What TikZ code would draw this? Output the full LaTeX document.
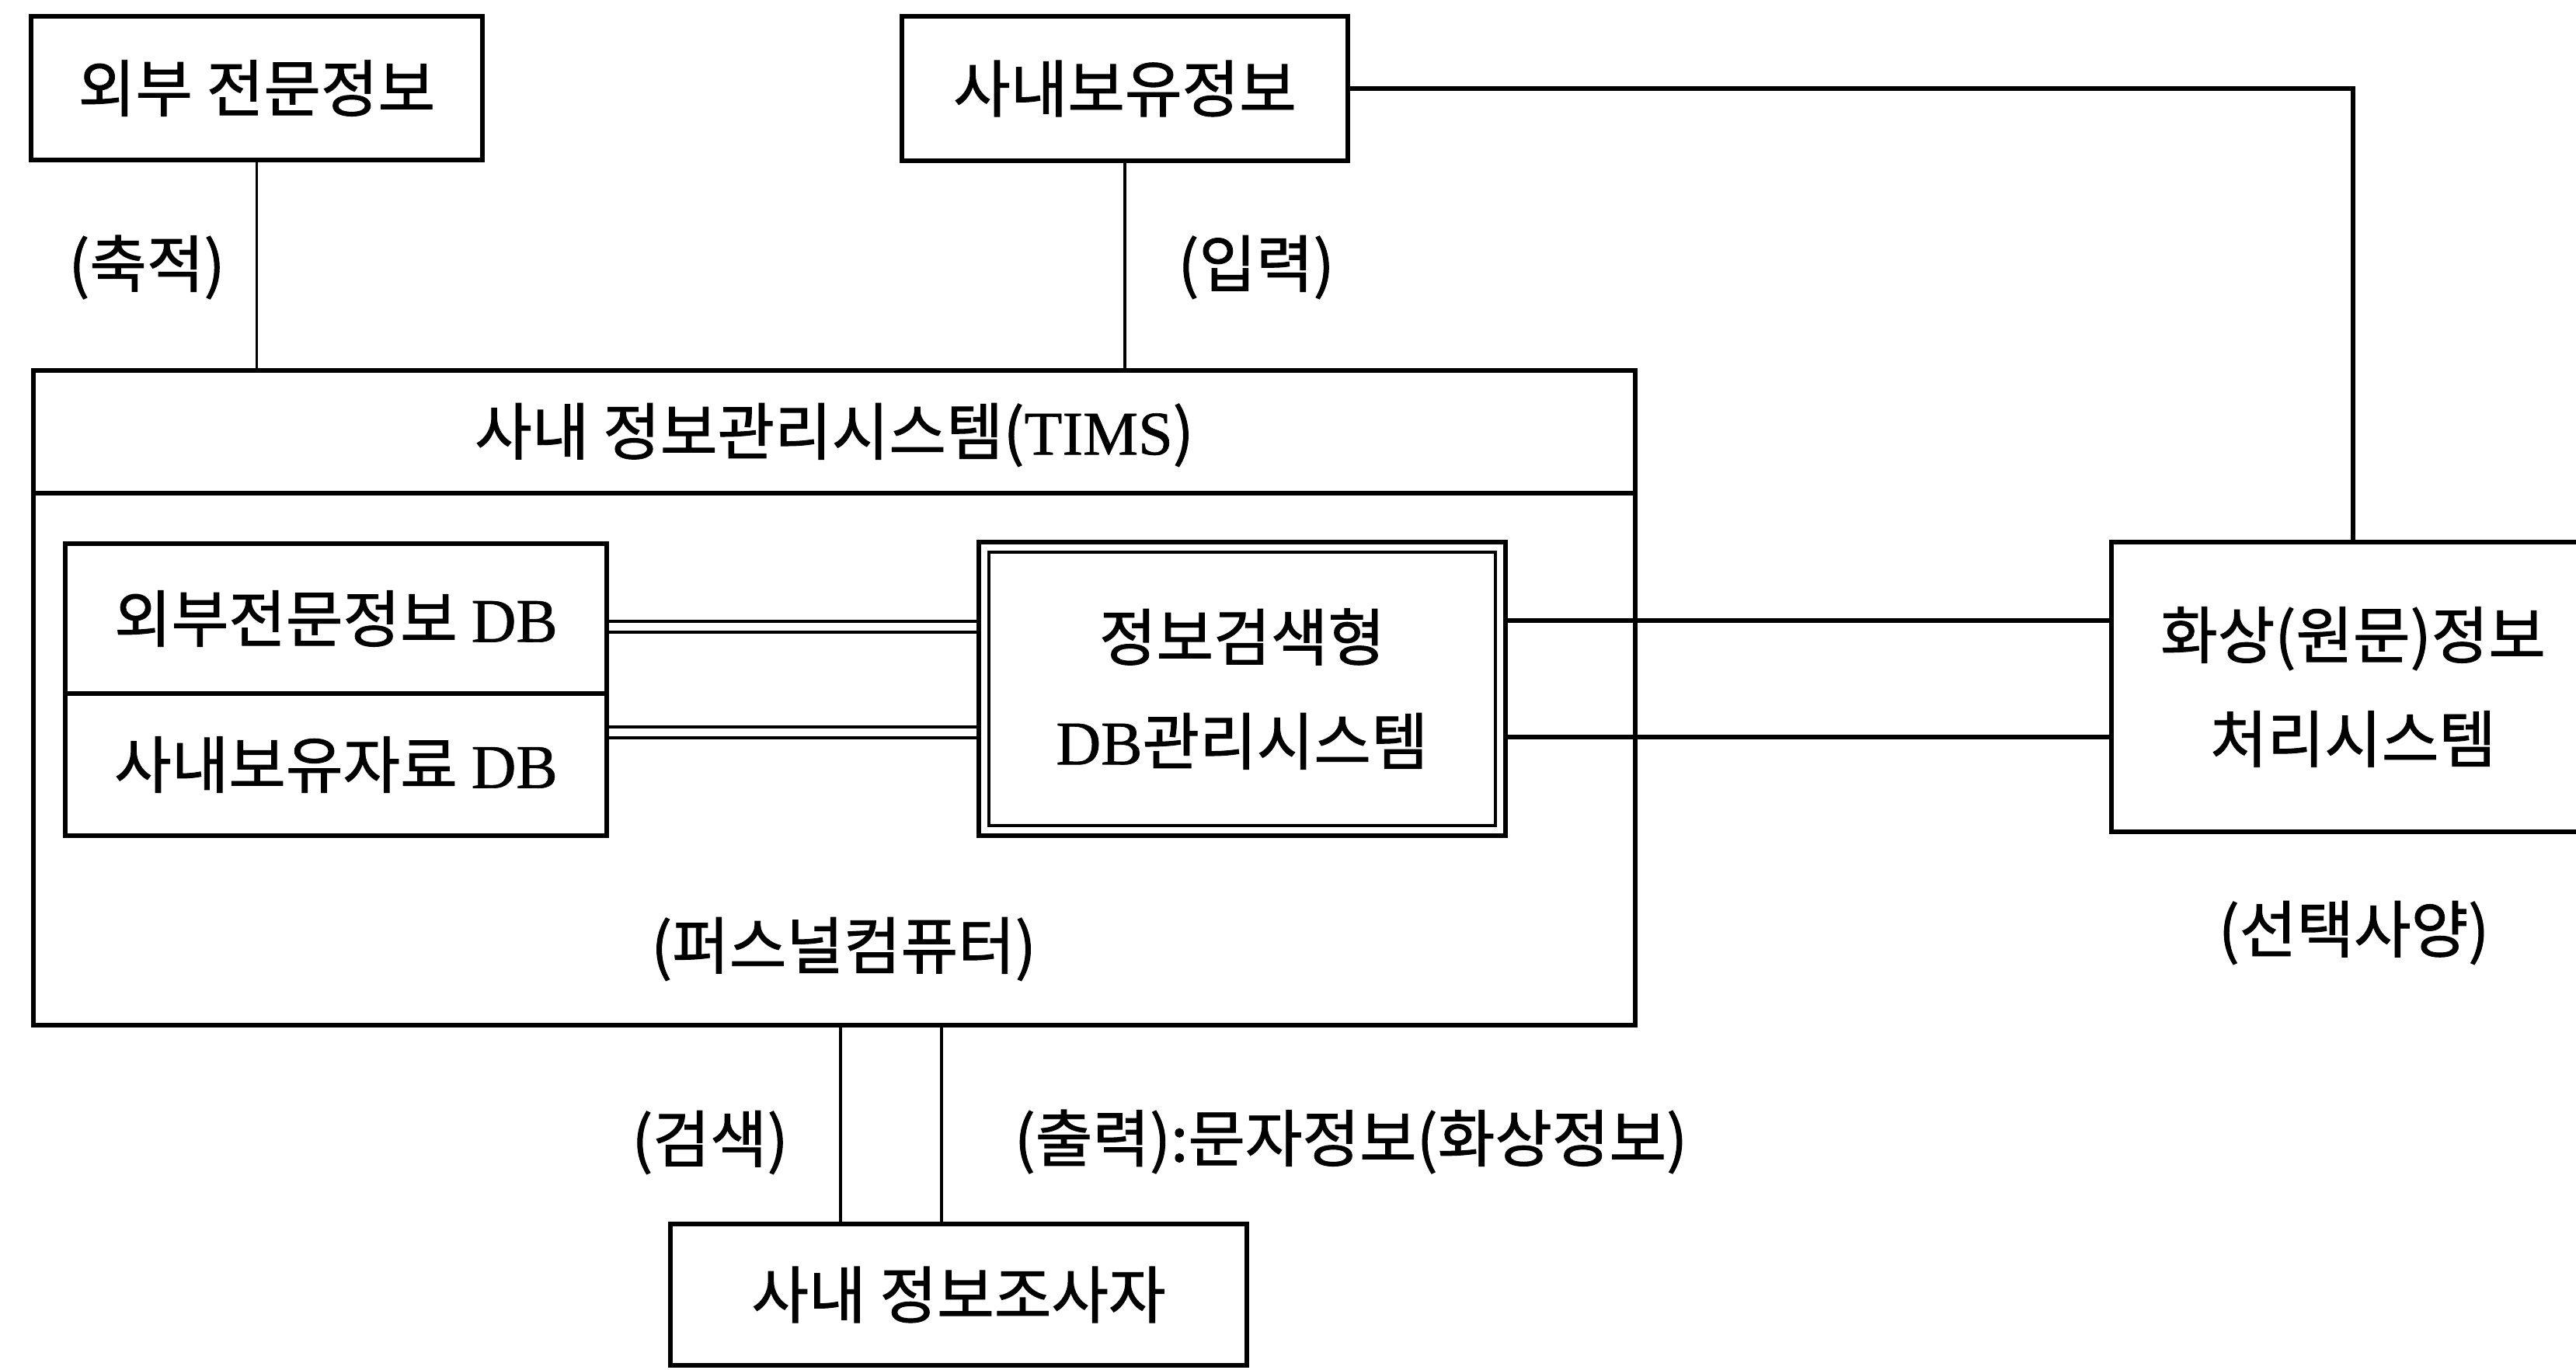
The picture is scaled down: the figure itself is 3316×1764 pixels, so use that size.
\documentclass[tikz,border=0pt]{standalone}
\usepackage{fontspec}
\setmainfont{Noto Sans CJK KR}[FakeBold=1.2]
\newfontfamily\lat{Liberation Serif}[FakeBold=0.8]
\begin{document}
\begin{tikzpicture}[x=0.25pt,y=-0.25pt,
  bx/.style={draw, line width=1.5pt, inner sep=0pt, align=center,
    font=\fontsize{20}{33.5}\selectfont},
  lbl/.style={inner sep=0pt, font=\fontsize{20}{24}\selectfont},
  conn/.style={line width=0.9pt},
  hline/.style={line width=1.3pt},
  dline/.style={double, line width=1.1pt, double distance=2.3pt}]
\useasboundingbox (0,0) rectangle (3316,1764);
% boxes
\node[bx, minimum width=145.25pt, minimum height=46.25pt] (ext) at (330.5,113.5) {외부 전문정보};
\node[bx, minimum width=143.5pt, minimum height=46.5pt] (own) at (1448,114) {사내보유정보};
\node[bx, minimum width=515.5pt, minimum height=210.75pt] (tims) at (1074,898.5) {};
\coordinate (hdr) at (0,635);
\draw[line width=1.5pt] (tims.west |- hdr) -- (tims.east |- hdr);
\node[lbl] (hdrtxt) at (1074,560) {사내 정보관리시스템({\lat TIMS})};
\node[bx, minimum width=174.25pt, minimum height=48.25pt] (dbA) at (432.5,796.5) {외부전문정보 {\lat DB}};
\node[bx, minimum width=174.25pt, minimum height=45.75pt] (dbB) at (432.5,984.5) {사내보유자료 {\lat DB}};
\node[bx, minimum width=169.5pt, minimum height=94.5pt] (dbms) at (1599,887) {정보검색형\\{\lat DB}관리시스템};
\draw[line width=1.2pt] ([shift={(4pt,-4pt)}]dbms.north west) rectangle ([shift={(-4pt,4pt)}]dbms.south east);
\node[bx, minimum width=155.5pt, minimum height=93.25pt] (img) at (3029,884.5) {화상(원문)정보\\처리시스템};
\node[bx, minimum width=185.5pt, minimum height=45.5pt] (user) at (1234,1667) {사내 정보조사자};
% labels
\node[lbl] (l1) at (189,344) {(축적)};
\node[lbl] (l2) at (1617,344) {(입력)};
\node[lbl] (l3) at (1086,1222) {(퍼스널컴퓨터)};
\node[lbl] (l4) at (914,1471) {(검색)};
\node[lbl, anchor=west] (l5) at (1305,1470) {(출력):문자정보(화상정보)};
\node[lbl] (l6) at (3030,1201) {(선택사양)};
% connectors
\draw[conn] (ext.south) -- (ext.south |- tims.north);
\draw[conn] (own.south) -- (own.south |- tims.north);
\draw[hline] (own.east) -| (img.north);
\draw[dline] ([yshift=-2.6pt]dbA.east) -- ([yshift=-2.6pt]dbA.east -| dbms.west);
\draw[dline] ([yshift=10.4pt]dbB.east) -- ([yshift=10.4pt]dbB.east -| dbms.west);
\draw[hline] ([yshift=22pt]dbms.east) -- ([yshift=22pt]dbms.east -| img.west);
\draw[hline] ([yshift=-15.5pt]dbms.east) -- ([yshift=-15.5pt]dbms.east -| img.west);
\coordinate (cs) at (1082,0);
\coordinate (co) at (1212,0);
\draw[conn] (tims.south -| cs) -- (user.north -| cs);
\draw[conn] (tims.south -| co) -- (user.north -| co);
\end{tikzpicture}
\end{document}
